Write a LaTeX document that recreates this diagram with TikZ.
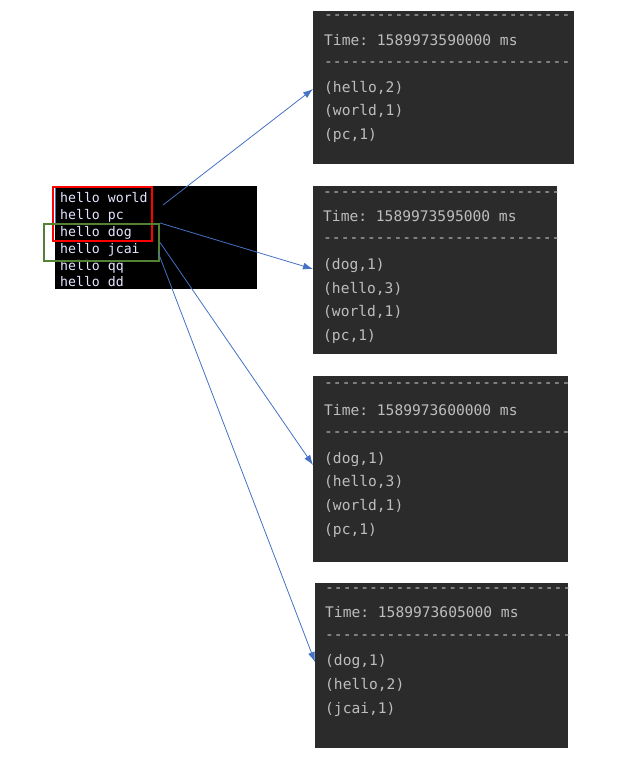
\documentclass[tikz,border=0pt]{standalone}
\usepackage{fontspec}
\setmonofont{DejaVu Sans Mono}
\usepackage{xcolor}
\usepackage{tikz}
\usetikzlibrary{arrows.meta, positioning}
\definecolor{termbg}{HTML}{2B2B2B}
\definecolor{termfg}{HTML}{BDBDBD}
\definecolor{linkblue}{HTML}{4472C4}
\definecolor{selgreen}{HTML}{548235}

\begin{document}
\begin{tikzpicture}[
    x=1pt, y=-1pt,
    outbox/.style={fill=termbg, anchor=north west, inner sep=0pt},
    outtxt/.style={font=\fontsize{14.6}{15}\selectfont\ttfamily, text=termfg,
                   anchor=west, inner sep=0pt, text height=14pt, text depth=3pt},
    dashes/.style={font=\fontsize{14.6}{15}\selectfont\ttfamily, text=termfg,
                   anchor=west, inner sep=0pt},
    intxt/.style={font=\fontsize{13.2}{13}\selectfont\ttfamily, text=white!90!blue,
                  anchor=west, inner sep=0pt, text height=13pt, text depth=3pt},
    arr/.style={-{Latex[length=10pt,width=7pt]}, draw=linkblue, line width=0.8pt},
    selbox/.style={line width=2pt, inner sep=0pt, anchor=north west}
  ]
  \useasboundingbox (0,0) rectangle (641,779);

  % input lines
  \node[fill=black, anchor=north west, minimum width=202pt, minimum height=103pt,
        inner sep=0pt] (input) at (55,186) {};
  \draw[linkblue, line width=1pt] (input.north west) -- ++(0,37);
  \node[intxt] (w1) at (60,197) {hello world};
  \node[intxt] (w2) at (60,214) {hello pc};
  \node[intxt] (w3) at (60,231) {hello dog};
  \node[intxt] (w4) at (60,248) {hello jcai};
  \node[intxt] (w5) at (60,265) {hello qq};
  \node[intxt] (w6) at (60,281) {hello dd};
  \node[selbox, draw=red, minimum width=99pt, minimum height=54pt] (win1) at (52,186) {};
  \node[selbox, draw=selgreen, minimum width=115pt, minimum height=37pt] (win2) at (43,223) {};

  % batch 1
  \node[outbox, minimum width=261pt, minimum height=153pt] (out1) at (313,11) {};
  \node[dashes] (o1d1) at (324,17) {----------------------------};
  \node[outtxt] (o1t) at (324,40) {Time: 1589973590000 ms};
  \node[dashes] (o1d2) at (324,64) {----------------------------};
  \node[outtxt] (o1a) at (324,87) {(hello,2)};
  \node[outtxt] (o1b) at (324,110) {(world,1)};
  \node[outtxt] (o1c) at (324,134) {(pc,1)};

  % batch 2
  \node[outbox, minimum width=244pt, minimum height=168pt] (out2) at (313,186) {};
  \node[dashes] (o2d1) at (323,194) {---------------------------};
  \node[outtxt] (o2t) at (323,216) {Time: 1589973595000 ms};
  \node[dashes] (o2d2) at (323,240) {---------------------------};
  \node[outtxt] (o2a) at (323,264) {(dog,1)};
  \node[outtxt] (o2b) at (323,288) {(hello,3)};
  \node[outtxt] (o2c) at (323,311) {(world,1)};
  \node[outtxt] (o2d) at (323,335) {(pc,1)};

  % batch 3
  \node[outbox, minimum width=255pt, minimum height=186pt] (out3) at (313,376) {};
  \node[dashes] (o3d1) at (324,385) {----------------------------};
  \node[outtxt] (o3t) at (324,410) {Time: 1589973600000 ms};
  \node[dashes] (o3d2) at (324,434) {----------------------------};
  \node[outtxt] (o3a) at (324,458) {(dog,1)};
  \node[outtxt] (o3b) at (324,481) {(hello,3)};
  \node[outtxt] (o3c) at (324,505) {(world,1)};
  \node[outtxt] (o3d) at (324,529) {(pc,1)};

  % batch 4
  \node[outbox, minimum width=253pt, minimum height=165pt] (out4) at (315,583) {};
  \node[dashes] (o4d1) at (325,590) {----------------------------};
  \node[outtxt] (o4t) at (325,612) {Time: 1589973605000 ms};
  \node[dashes] (o4d2) at (325,637) {----------------------------};
  \node[outtxt] (o4a) at (325,660) {(dog,1)};
  \node[outtxt] (o4b) at (325,684) {(hello,2)};
  \node[outtxt] (o4c) at (325,708) {(jcai,1)};

  % windows -> batches
  \coordinate (src1) at (163,205);
  \coordinate (src4) at (158,252);
  \draw[arr] (src1) -- ([yshift=-2pt]out1.west |- o1a);
  \draw[arr] (win2.north east) -- ([yshift=-5pt]out2.west |- o2a);
  \draw[arr] (win2.east) -- ([yshift=-7pt]out3.west |- o3a);
  \draw[arr] (src4) -- ([yshift=-2pt]out4.west |- o4a);
\end{tikzpicture}
\end{document}
